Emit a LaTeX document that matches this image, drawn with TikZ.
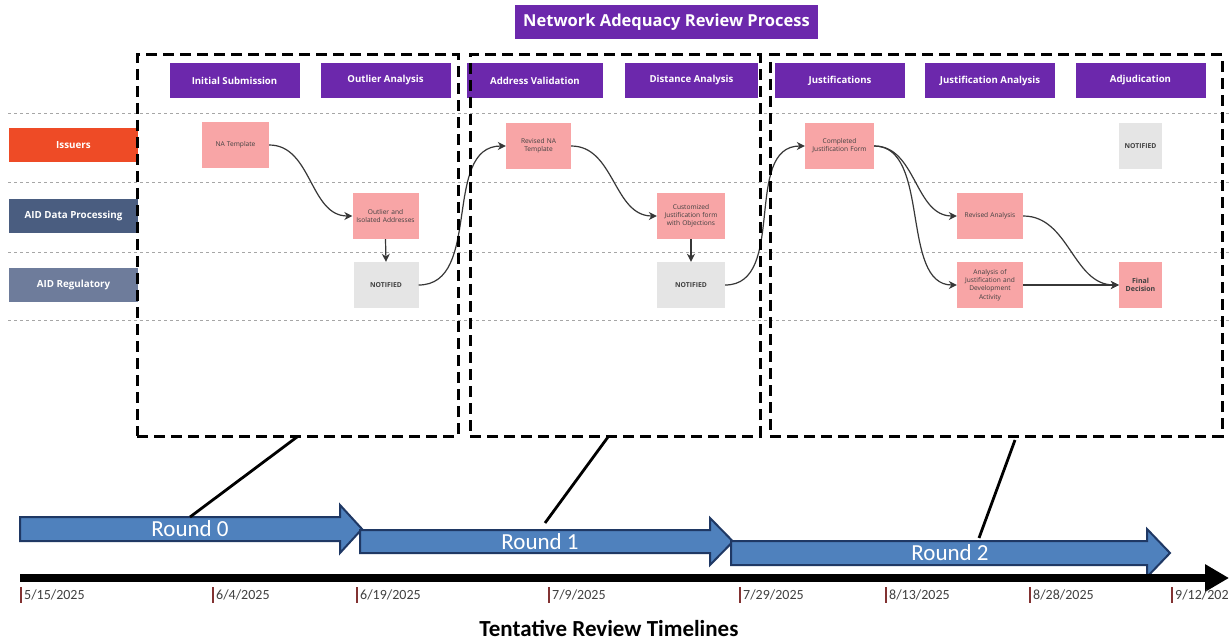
\documentclass[tikz,border=0pt]{standalone}
\usepackage{fontspec}
\setmainfont{Open Sans}
\newfontfamily\calib{Carlito}
\usetikzlibrary{arrows.meta}
\definecolor{hdrpurple}{RGB}{108,40,172}
\definecolor{issuerc}{RGB}{238,75,38}
\definecolor{dataproc}{RGB}{74,93,128}
\definecolor{regul}{RGB}{110,124,155}
\definecolor{pinkbox}{RGB}{248,165,166}
\definecolor{graybox}{RGB}{229,229,229}
\definecolor{arrblue}{RGB}{79,129,189}
\definecolor{arrline}{RGB}{31,56,100}
\definecolor{tickc}{RGB}{130,50,50}
\definecolor{edgec}{RGB}{55,55,55}
\tikzset{
  hdr/.style={fill=hdrpurple, text=white, font=\fontsize{9.6}{11}\selectfont\bfseries, minimum width=130pt, minimum height=35pt, inner sep=0pt},
  lane/.style={text=white, font=\fontsize{9.8}{11}\selectfont\bfseries, minimum width=129pt, minimum height=34pt, inner sep=0pt},
  task/.style={fill=pinkbox, text=black!75, font=\fontsize{6.6}{8.2}\selectfont, minimum width=66pt, minimum height=46pt, inner sep=1pt, align=center, text width=64pt},
  notif/.style={fill=graybox, text=black!75, font=\fontsize{6.8}{8}\selectfont\bfseries, minimum width=65pt, minimum height=46pt, inner sep=0pt, align=center},
  flow/.style={draw=edgec, line width=1.2pt, -{Stealth[length=8pt,width=8pt]}},
  lanesep/.style={draw=black!35, dashed, line width=0.6pt},
  roundbox/.style={draw=black, line width=3pt, dash pattern=on 11pt off 6pt},
  roundarrow/.style={fill=arrblue, draw=arrline, line width=2pt, line join=miter},
  roundlbl/.style={text=white, font=\calib\fontsize{23}{26}\selectfont},
  pointer/.style={draw=black, line width=2.8pt},
  datelbl/.style={font=\calib\fontsize{14}{16}\selectfont, text=black!75, anchor=west, inner sep=0pt},
  tick/.style={draw=tickc, line width=1.2pt}
}
\begin{document}
\begin{tikzpicture}[x=1pt,y=-1pt]
\useasboundingbox (0,0) rectangle (1229,644);
\fill[white] (0,0) rectangle (1229,644);

% title
\node[fill=hdrpurple, text=white, font=\fontsize{16.5}{19}\selectfont\bfseries, minimum width=303pt, minimum height=34pt, inner sep=0pt] (title) at (666.5,22) {Network Adequacy Review Process};

% headers
\node[hdr] (h1) at (234.5,80.5) {Initial Submission};
\node[hdr] (h2) at (385.5,80.5) {Outlier Analysis};
\node[hdr, minimum width=136pt] (h3) at (535,80.5) {Address Validation};
\node[hdr, minimum width=133pt] (h4) at (691.5,80.5) {Distance Analysis};
\node[hdr] (h5) at (840,80.5) {Justifications};
\node[hdr] (h6) at (990,80.5) {Justification Analysis};
\node[hdr] (h7) at (1140.5,80.5) {Adjudication};

% lane separators
\coordinate (s1a) at (8,113); \coordinate (s1b) at (1229,113);
\coordinate (s2a) at (8,182); \coordinate (s2b) at (1229,182);
\coordinate (s3a) at (8,252); \coordinate (s3b) at (1229,252);
\coordinate (s4a) at (8,320); \coordinate (s4b) at (1229,320);
\draw[lanesep] (s1a) -- (s1b);
\draw[lanesep] (s2a) -- (s2b);
\draw[lanesep] (s3a) -- (s3b);
\draw[lanesep] (s4a) -- (s4b);

% lanes
\node[lane, fill=issuerc] (l1) at (73.5,145) {Issuers};
\node[lane, fill=dataproc] (l2) at (73.5,216) {AID Data Processing};
\node[lane, fill=regul] (l3) at (73.5,285) {AID Regulatory};

% tasks
\node[task, minimum width=67pt, text width=65pt] (na) at (235.5,145) {NA Template};
\node[task] (out) at (385.5,216) {Outlier and\\Isolated Addresses};
\node[notif] (n1) at (386,285) {NOTIFIED};
\node[task, minimum width=65pt, text width=50pt] (rna) at (538.5,146) {Revised NA\\Template};
\node[task, minimum width=68pt] (cjf) at (691,216) {Customized\\Justification form\\with Objections};
\node[notif, minimum width=68pt] (n2) at (691,285) {NOTIFIED};
\node[task, minimum width=69pt, text width=67pt] (comp) at (839.5,146) {Completed\\Justification Form};
\node[notif, minimum width=43pt] (n3) at (1140.5,146) {NOTIFIED};
\node[task] (rev) at (990,216) {Revised Analysis};
\node[task, text width=62pt] (ajd) at (990,285) {Analysis of\\Justification and\\Development\\Activity};
\node[task, minimum width=43pt, text width=40pt, font=\fontsize{7}{8.6}\selectfont\bfseries] (fd) at (1140.5,285) {Final\\Decision};

% flows
\draw[flow] (na.east) to[out=0,in=180] (out.west);
\draw[flow] (out.south) -- (n1.north);
\draw[flow] (n1.east) to[out=0,in=180] (rna.west);
\draw[flow] (rna.east) to[out=0,in=180] (cjf.west);
\draw[flow] (cjf.south) -- (n2.north);
\draw[flow] (n2.east) to[out=0,in=180] (comp.west);
\draw[flow] (comp.east) to[out=0,in=180] (rev.west);
\draw[flow] (comp.east) to[out=0,in=180,looseness=0.9] (ajd.west);
\draw[flow] (rev.east) to[out=0,in=180] (fd.west);
\draw[flow] (ajd.east) -- (fd.west);

% round boxes
\node[roundbox, minimum width=321pt, minimum height=381pt, inner sep=0pt] (b0) at (297.5,245.5) {};
\node[roundbox, minimum width=290pt, minimum height=381pt, inner sep=0pt] (b1) at (615,245.5) {};
\node[roundbox, minimum width=452pt, minimum height=381pt, inner sep=0pt] (b2) at (996,245.5) {};

% round arrows
\draw[roundarrow] (20,517) -- (340,517) -- (340,505) -- (362,529) -- (340,553) -- (340,541) -- (20,541) -- cycle;
\draw[roundarrow] (360,530) -- (710,530) -- (710,518) -- (733,541.5) -- (710,565) -- (710,553) -- (360,553) -- cycle;
\draw[roundarrow] (731,541) -- (1147,541) -- (1147,529) -- (1170,553) -- (1147,577) -- (1147,565) -- (731,565) -- cycle;
\node[roundlbl] (r0) at (190,529) {Round 0};
\node[roundlbl] (r1) at (540,541.5) {Round 1};
\node[roundlbl] (r2) at (950,553) {Round 2};

% pointers
\coordinate (p0a) at (297,437); \coordinate (p0b) at (190,517);
\coordinate (p1a) at (608,437); \coordinate (p1b) at (545,523);
\coordinate (p2a) at (1015,440); \coordinate (p2b) at (979,538);
\draw[pointer] (p0a) -- (p0b);
\draw[pointer] (p1a) -- (p1b);
\draw[pointer] (p2a) -- (p2b);

% timeline
\coordinate (tl0) at (20,578); \coordinate (tl1) at (1229,578);
\draw[line width=8pt, -{Triangle[length=24pt,width=26pt]}] (tl0) -- (tl1);

\foreach \x/\d [count=\i] in {21/5\slash 15\slash 2025, 213/6\slash 4\slash 2025, 357/6\slash 19\slash 2025, 549/7\slash 9\slash 2025, 740/7\slash 29\slash 2025, 886/8\slash 13\slash 2025, 1030/8\slash 28\slash 2025, 1172/9\slash 12\slash 2025}{
  \coordinate (t\i a) at (\x,587); \coordinate (t\i b) at (\x,603);
  \draw[tick] (t\i a) -- (t\i b);
  \node[datelbl] (d\i) at (\x+3,595) {\d};
}

\node[font=\calib\fontsize{23}{26}\selectfont\bfseries] (tt) at (609,628) {Tentative Review Timelines};
\end{tikzpicture}
\end{document}
